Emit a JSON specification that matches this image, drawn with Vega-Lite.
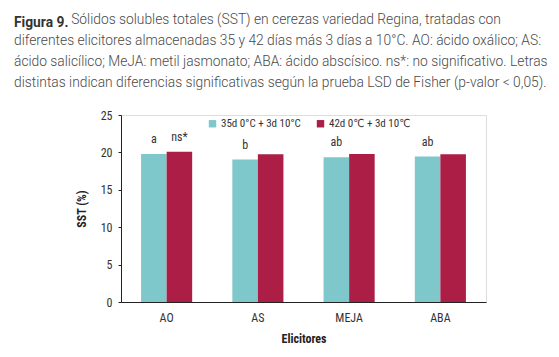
{
  "$schema": "https://vega.github.io/schema/vega-lite/v6.json",
  "width": 365,
  "height": 187,
  "autosize": {"type": "none"},
  "padding": {"left": 121, "top": 115, "right": 73, "bottom": 55},
  "background": "white",
  "title": {
    "text": "Figura 9.",
    "subtitle": [
      "\u200b\u00a0\u00a0\u00a0\u00a0\u00a0\u00a0\u00a0\u00a0\u00a0\u00a0\u00a0\u00a0\u00a0\u00a0\u00a0\u00a0\u00a0Sólidos solubles totales (SST) en cerezas variedad Regina, tratadas con",
      "diferentes elicitores almacenadas 35 y 42 días más 3 días a 10°C. AO: ácido oxálico; AS:",
      "ácido salicílico; MeJA: metil jasmonato; ABA: ácido abscísico. ns*: no significativo. Letras",
      "distintas indican diferencias significativas según la prueba LSD de Fisher (p-valor < 0,05)."
    ],
    "anchor": "start",
    "frame": "group",
    "dx": -107,
    "offset": 16,
    "font": "Roboto",
    "fontSize": 13.8,
    "fontWeight": "bold",
    "color": "#333333",
    "subtitleFont": "Roboto",
    "subtitleFontSize": 13.8,
    "subtitleFontWeight": 300,
    "subtitleColor": "#4a4a4a",
    "subtitleLineHeight": 21,
    "subtitlePadding": -17
  },
  "data": {
    "values": [
      {"elicitor": "AO", "serie": "35d 0°C + 3d 10°C", "sst": 19.8, "letra": "a"},
      {"elicitor": "AO", "serie": "42d 0℃ + 3d 10℃", "sst": 20.1, "letra": "ns*"},
      {"elicitor": "AS", "serie": "35d 0°C + 3d 10°C", "sst": 19.05, "letra": "b"},
      {"elicitor": "AS", "serie": "42d 0℃ + 3d 10℃", "sst": 19.75, "letra": ""},
      {"elicitor": "MEJA", "serie": "35d 0°C + 3d 10°C", "sst": 19.35, "letra": "ab"},
      {"elicitor": "MEJA", "serie": "42d 0℃ + 3d 10℃", "sst": 19.8, "letra": ""},
      {"elicitor": "ABA", "serie": "35d 0°C + 3d 10°C", "sst": 19.45, "letra": "ab"},
      {"elicitor": "ABA", "serie": "42d 0℃ + 3d 10℃", "sst": 19.75, "letra": ""}
    ]
  },
  "encoding": {
    "x": {
      "field": "elicitor",
      "type": "nominal",
      "sort": ["AO", "AS", "MEJA", "ABA"],
      "scale": {"paddingInner": 0.44, "paddingOuter": 0.22},
      "axis": {
        "title": "Elicitores",
        "titleFont": "Roboto Condensed, DejaVu Sans Condensed, Roboto",
        "titleFontSize": 12,
        "titleFontWeight": "bold",
        "titleColor": "#222",
        "titlePadding": 10,
        "labelFont": "Roboto Condensed, DejaVu Sans Condensed, Roboto",
        "labelFontSize": 12,
        "labelColor": "#333",
        "labelAngle": 0,
        "labelPadding": 10,
        "ticks": false,
        "domainColor": "#222",
        "domainWidth": 1
      }
    },
    "xOffset": {
      "field": "serie",
      "type": "nominal",
      "sort": ["35d 0°C + 3d 10°C", "42d 0℃ + 3d 10℃"]
    },
    "y": {
      "field": "sst",
      "type": "quantitative",
      "scale": {"domain": [0, 25], "nice": false},
      "axis": {
        "title": "SST (%)",
        "titleFont": "Roboto Condensed, DejaVu Sans Condensed, Roboto",
        "titleFontSize": 12,
        "titleFontWeight": "bold",
        "titleColor": "#222",
        "titlePadding": 12,
        "labelFont": "Roboto Condensed, DejaVu Sans Condensed, Roboto",
        "labelFontSize": 12,
        "labelColor": "#333",
        "labelPadding": 6,
        "values": [0, 5, 10, 15, 20, 25],
        "labelOverlap": false,
        "grid": false,
        "ticks": true,
        "tickSize": 3,
        "tickColor": "#222",
        "domainColor": "#222"
      }
    }
  },
  "layer": [
    {
      "mark": {"type": "bar"},
      "encoding": {
        "color": {
          "field": "serie",
          "type": "nominal",
          "sort": ["35d 0°C + 3d 10°C", "42d 0℃ + 3d 10℃"],
          "scale": {"range": ["#7ec8cb", "#ad1e46"]},
          "legend": {
            "title": null,
            "orient": "none",
            "direction": "horizontal",
            "legendX": 86,
            "legendY": 3,
            "symbolType": "square",
            "symbolSize": 55,
            "symbolStrokeWidth": 0,
            "labelFont": "Roboto Condensed, DejaVu Sans Condensed, Roboto",
            "labelFontSize": 11,
            "labelColor": "#333",
            "labelOffset": 3,
            "columnPadding": 14
          }
        }
      }
    },
    {
      "mark": {"type": "text", "dy": -15, "font": "Roboto Condensed, DejaVu Sans Condensed, Roboto", "fontSize": 12, "color": "#333", "baseline": "middle"},
      "encoding": {
        "text": {"field": "letra"}
      }
    }
  ]
}
